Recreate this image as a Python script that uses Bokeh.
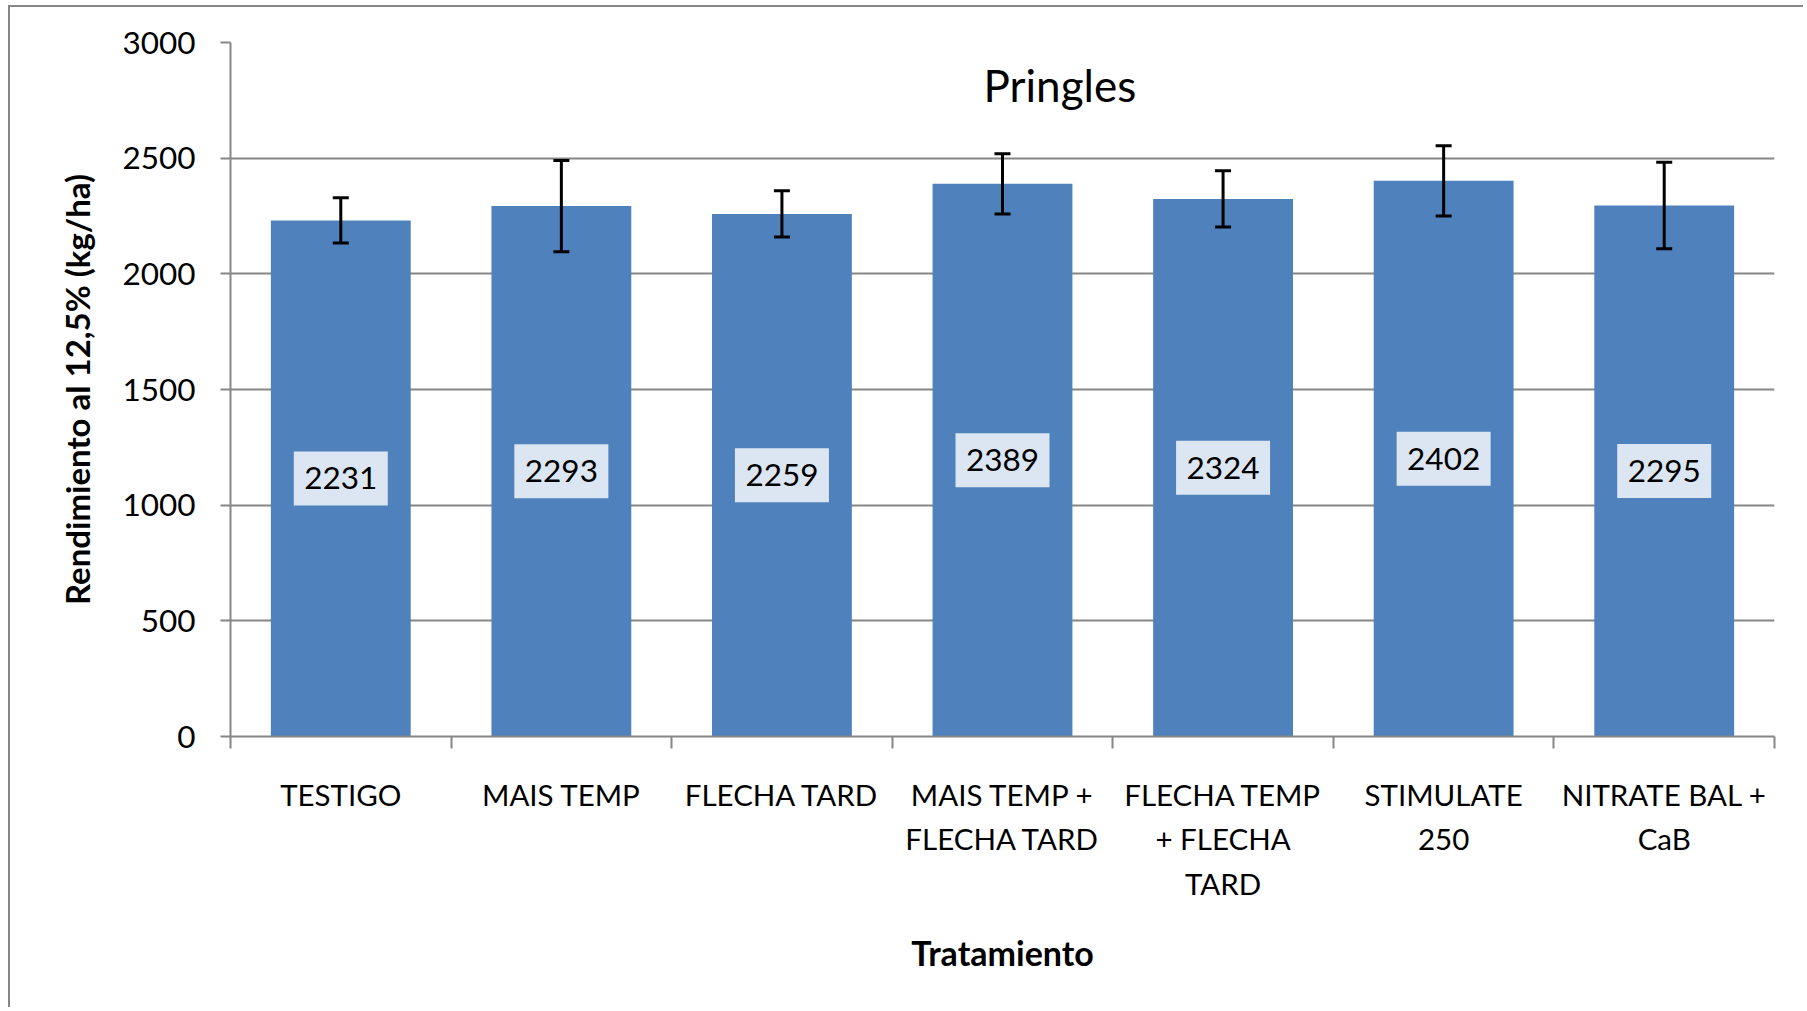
from bokeh.plotting import figure
from bokeh.models import ColumnDataSource, Range1d, FixedTicker, Whisker, TeeHead, Label
from bokeh.core.properties import value
from bokeh.embed import file_html
from bokeh.resources import INLINE

# ---- data ----
categories = ["TESTIGO", "MAIS TEMP", "FLECHA TARD", "MAIS TEMP + FLECHA TARD",
              "FLECHA TEMP + FLECHA TARD", "STIMULATE 250", "NITRATE BAL + CaB"]
tick_labels = ["TESTIGO", "MAIS TEMP", "FLECHA TARD", "MAIS TEMP +\nFLECHA TARD",
               "FLECHA TEMP\n+ FLECHA\nTARD", "STIMULATE\n250", "NITRATE BAL +\nCaB"]
yields = [2231, 2293, 2259, 2389, 2324, 2402, 2295]
errors = [98, 197, 100, 130, 122, 152, 187]
y_ticks = [0, 500, 1000, 1500, 2000, 2500, 3000]
title_text = "Pringles"
x_title = "Tratamiento"
y_title = "Rendimiento al 12,5% (kg/ha)"

GRAY = "#868686"
BAR = "#4f81bd"
FONT = "Lato"

n = len(categories)
xs = [i + 0.5 for i in range(n)]
src = ColumnDataSource(dict(
    x=xs,
    top=yields,
    mid=[v / 2 for v in yields],
    lab=[str(v) for v in yields],
    upper=[v + e for v, e in zip(yields, errors)],
    lower=[v - e for v, e in zip(yields, errors)],
))

p = figure(width=1795, height=1002,
           x_range=Range1d(0, n), y_range=Range1d(0, 3000),
           output_backend="svg", toolbar_location=None,
           min_border_left=220, min_border_right=31,
           min_border_top=35, min_border_bottom=273)
p.styles = {"margin-left": "8px", "margin-top": "5px",
            "border-left": f"2px solid {GRAY}", "border-top": f"2px solid {GRAY}"}
p.outline_line_color = None
p.background_fill_color = "white"
p.border_fill_color = "white"

# grid
p.xgrid.visible = False
p.ygrid.ticker = FixedTicker(ticks=y_ticks)
p.ygrid.grid_line_color = GRAY
p.ygrid.grid_line_width = 2

# y axis
ya = p.yaxis[0]
ya.ticker = FixedTicker(ticks=y_ticks)
ya.axis_line_color = GRAY
ya.axis_line_width = 2
ya.major_tick_line_color = GRAY
ya.major_tick_line_width = 2
ya.major_tick_out = 10
ya.major_tick_in = 0
ya.minor_tick_out = 0
ya.minor_tick_in = 0
ya.major_label_standoff = 25
ya.major_label_text_font = FONT
ya.major_label_text_font_size = "31.5px"
ya.major_label_text_color = "black"
ya.axis_label = y_title
ya.axis_label_text_font = FONT
ya.axis_label_text_font_style = "bold"
ya.axis_label_text_font_size = "33px"
ya.axis_label_text_color = "black"
ya.axis_label_standoff = 22

# x axis
xa = p.xaxis[0]
xa.ticker = FixedTicker(ticks=xs, minor_ticks=list(range(n + 1)))
xa.major_label_overrides = {x: l for x, l in zip(xs, tick_labels)}
xa.axis_line_color = GRAY
xa.axis_line_width = 2
xa.major_tick_out = 0
xa.major_tick_in = 0
xa.minor_tick_out = 12
xa.minor_tick_in = 0
xa.minor_tick_line_color = GRAY
xa.minor_tick_line_width = 2
xa.major_label_standoff = 28
xa.major_label_text_font = FONT
xa.major_label_text_font_size = "29.5px"
xa.major_label_text_line_height = 1.28
xa.major_label_text_color = "black"
xa.axis_label = x_title
xa.axis_label_text_font = FONT
xa.axis_label_text_font_style = "bold"
xa.axis_label_text_font_size = "34px"
xa.axis_label_text_color = "black"
xa.axis_label_standoff = 28

# bars
p.vbar(x="x", top="top", bottom=0, width=0.634, source=src,
       fill_color=BAR, line_color=None)

# error bars
wh = Whisker(base="x", upper="upper", lower="lower", source=src,
             line_color="black", line_width=3, level="annotation",
             upper_head=TeeHead(size=16, line_width=3, line_color="black"),
             lower_head=TeeHead(size=16, line_width=3, line_color="black"))
p.add_layout(wh)

# data labels
p.rect(x="x", y="mid", width=94, height=54, width_units="screen", height_units="screen",
       source=src, fill_color="#dce6f2", line_color=None)
p.text(x="x", y="mid", text="lab", source=src, text_font=value(FONT),
       text_font_size=value("31.5px"), text_align="center", text_baseline="middle",
       text_color="black")

# chart title inside plot area
p.add_layout(Label(x=3.76, y=2815, text=title_text, text_font=FONT,
                   text_font_size="44px", text_align="center", text_baseline="middle",
                   text_color="black"))

open("out.html", "w").write(file_html(p, INLINE))
